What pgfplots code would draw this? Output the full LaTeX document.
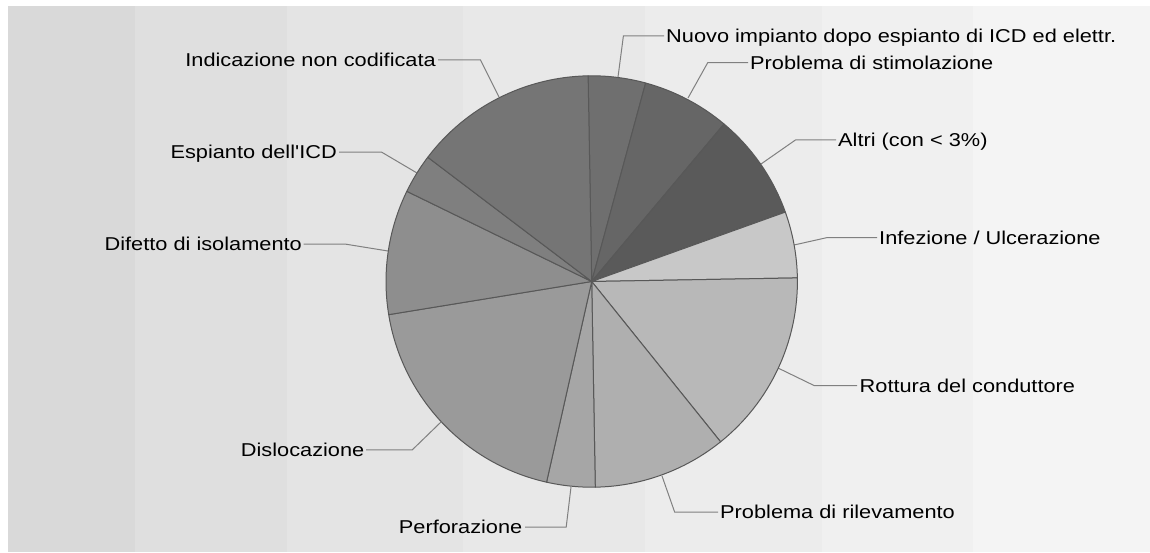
\documentclass[border=0pt]{standalone}
\usepackage{fontspec}
\setmainfont{Liberation Sans}[FakeStretch=1.17, Ligatures=TeXOff]
\usepackage{pgfplots}
\pgfplotsset{compat=1.18}

% stripes of the backdrop
\definecolor{bgA}{HTML}{D9D9D9}
\definecolor{bgB}{HTML}{DFDFDF}
\definecolor{bgC}{HTML}{E4E4E4}
\definecolor{bgD}{HTML}{E8E8E8}
\definecolor{bgE}{HTML}{ECECEC}
\definecolor{bgF}{HTML}{F0F0F0}
\definecolor{bgG}{HTML}{F4F4F4}
% slices
\definecolor{cNuovo}{HTML}{6F6F6F}
\definecolor{cStim}{HTML}{666666}
\definecolor{cAltri}{HTML}{5A5A5A}
\definecolor{cInf}{HTML}{C8C8C8}
\definecolor{cRott}{HTML}{B8B8B8}
\definecolor{cRil}{HTML}{AFAFAF}
\definecolor{cPerf}{HTML}{A6A6A6}
\definecolor{cDisl}{HTML}{9A9A9A}
\definecolor{cDif}{HTML}{8E8E8E}
\definecolor{cEsp}{HTML}{7F7F7F}
\definecolor{cInd}{HTML}{757575}
\definecolor{edge}{HTML}{585858}
\definecolor{leader}{HTML}{808080}

% one slice: colour, share in percent (clockwise from the top)
\gdef\angA{91}
\newcommand\slice[2]{%
  \pgfmathsetmacro\angB{\angA-3.6*#2}%
  \edef\tmp{\noexpand\addplot[slice,fill=#1] coordinates {(0,0) (\angA,205.7)}
    arc[start angle=\angA, end angle=\angB, radius=205.7pt] -- cycle;}%
  \tmp
  \global\let\angA\angB
}

\begin{document}
\begin{tikzpicture}[
  lab/.style={font=\fontsize{18.6}{22}\selectfont, inner sep=0pt, text=black}]
\begin{axis}[
  scale only axis, width=1150pt, height=552pt,
  xmin=0, xmax=1150, ymin=0, ymax=552, y dir=reverse,
  hide axis, clip=false, no markers,
  stripe/.style={draw=none, fill=#1},
  lead/.style={draw=leader, line width=1pt}]
  \addplot[stripe=white] coordinates {(0,0) (1150,0) (1150,552) (0,552)} -- cycle;
  \addplot[stripe=bgA] coordinates {(8,6) (135,6) (135,552) (8,552)} -- cycle;
  \addplot[stripe=bgB] coordinates {(135,6) (287,6) (287,552) (135,552)} -- cycle;
  \addplot[stripe=bgC] coordinates {(287,6) (463,6) (463,552) (287,552)} -- cycle;
  \addplot[stripe=bgD] coordinates {(463,6) (645,6) (645,552) (463,552)} -- cycle;
  \addplot[stripe=bgE] coordinates {(645,6) (822,6) (822,552) (645,552)} -- cycle;
  \addplot[stripe=bgF] coordinates {(822,6) (973,6) (973,552) (822,552)} -- cycle;
  \addplot[stripe=bgG] coordinates {(973,6) (1150,6) (1150,552) (973,552)} -- cycle;

  % leader lines
  \addplot[lead] coordinates {(618,77) (623.4,35.9) (664,35.9)};
  \addplot[lead] coordinates {(688,98) (707.7,62.7) (748,62.7)};
  \addplot[lead] coordinates {(761,164) (795.7,139.8) (836,139.8)};
  \addplot[lead] coordinates {(794,245) (827,237.6) (877,237.6)};
  \addplot[lead] coordinates {(778,368) (814,385.5) (857,385.5)};
  \addplot[lead] coordinates {(662,476) (674.7,512.2) (718,512.2)};
  \addplot[lead] coordinates {(571,487) (566.2,527) (525,527)};
  \addplot[lead] coordinates {(441,422) (412.2,449.9) (366,449.9)};
  \addplot[lead] coordinates {(388,251) (344.7,244) (303.5,244)};
  \addplot[lead] coordinates {(417,173) (381.4,152) (339,152)};
  \addplot[lead] coordinates {(499,97) (480.4,59.8) (438,59.8)};

  \node[lab, anchor=base west] at (axis cs:666,42) {Nuovo impianto dopo espianto di ICD ed elettr.};
  \node[lab, anchor=base west] at (axis cs:750,69) {Problema di stimolazione};
  \node[lab, anchor=base west] at (axis cs:838,146) {Altri (con < 3\%)};
  \node[lab, anchor=base west] at (axis cs:879,244) {Infezione / Ulcerazione};
  \node[lab, anchor=base west] at (axis cs:859.5,392) {Rottura del conduttore};
  \node[lab, anchor=base west] at (axis cs:720,518.5) {Problema di rilevamento};
  \node[lab, anchor=base east] at (axis cs:522.5,533) {Perforazione};
  \node[lab, anchor=base east] at (axis cs:364.5,456) {Dislocazione};
  \node[lab, anchor=base east] at (axis cs:302,250.5) {Difetto di isolamento};
  \node[lab, anchor=base east] at (axis cs:337,158.5) {Espianto dell'ICD};
  \node[lab, anchor=base east] at (axis cs:436,66) {Indicazione non codificata};
\end{axis}

\begin{axis}[
  at={(591.7pt,270.5pt)}, anchor=center,
  scale only axis, width=411.4pt, height=411.4pt,
  xmin=-205.7, xmax=205.7, ymin=-205.7, ymax=205.7,
  hide axis, clip=false, no markers,
  slice/.style={data cs=polar, draw=edge, line width=1pt, line join=round}]
  \slice{cNuovo}{4.5}
  \slice{cStim}{6.9}
  \slice{cAltri}{8.4}
  \slice{cInf}{5.2}
  \slice{cRott}{14.5}
  \slice{cRil}{10.5}
  \slice{cPerf}{3.8}
  \slice{cDisl}{18.9}
  \slice{cDif}{9.8}
  \slice{cEsp}{3.1}
  \slice{cInd}{14.4}
\end{axis}
\end{tikzpicture}
\end{document}
